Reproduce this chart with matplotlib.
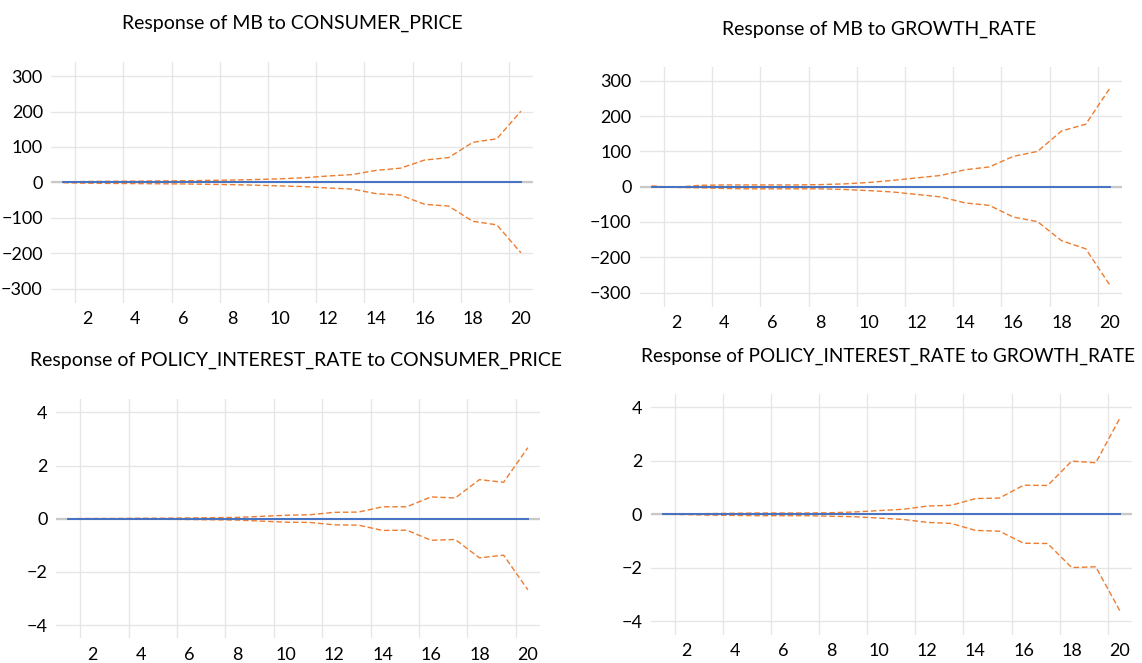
import matplotlib
matplotlib.use('Agg')
import matplotlib.pyplot as plt

plt.rcParams['font.family'] = ['Lato', 'DejaVu Sans']

# periods
steps = list(range(1, 21))
xtick_labels = ['2', '4', '6', '8', '10', '12', '14', '16', '18', '20']

# Response of MB to CONSUMER_PRICE
mb_cp = [0.0] * 20
mb_cp_up = [1, 2.5, 3, 3.5, 4, 4.5, 5.5, 6.5, 8, 10, 13, 18, 22, 34, 40, 63, 70, 113, 123, 201]
mb_cp_lo = [-1, -2.5, -3, -3.5, -4, -4.5, -5.5, -6.5, -8, -10, -12, -16, -19, -32, -36, -62, -67, -110, -120, -199]

# Response of MB to GROWTH_RATE
mb_gr = [0.0] * 20
mb_gr_up = [2, -2, 4, 5, 5, 5, 5, 6, 8, 12, 18, 25, 32, 48, 56, 86, 100, 158, 177, 279]
mb_gr_lo = [1, -2, -3, -5, -6, -6, -6, -6, -8, -11, -15, -22, -29, -46, -53, -86, -99, -153, -176, -279]

# Response of POLICY_INTEREST_RATE to CONSUMER_PRICE
pir_cp = [0.0] * 20
pir_cp_up = [0.0, 0.01, 0.01, 0.02, 0.02, 0.03, 0.04, 0.05, 0.09, 0.13, 0.15, 0.24, 0.25, 0.45, 0.45, 0.82, 0.78, 1.47, 1.37, 2.67]
pir_cp_lo = [0.0, -0.01, -0.01, -0.02, -0.02, -0.03, -0.04, -0.05, -0.09, -0.13, -0.14, -0.23, -0.24, -0.44, -0.43, -0.81, -0.78, -1.47, -1.37, -2.67]

# Response of POLICY_INTEREST_RATE to GROWTH_RATE
pir_gr = [0.0] * 20
pir_gr_up = [0.01, 0.01, 0.03, 0.04, 0.05, 0.05, 0.05, 0.06, 0.09, 0.14, 0.19, 0.31, 0.34, 0.59, 0.61, 1.09, 1.08, 1.99, 1.93, 3.59]
pir_gr_lo = [0.0, -0.01, -0.03, -0.04, -0.05, -0.05, -0.05, -0.07, -0.09, -0.14, -0.19, -0.30, -0.34, -0.60, -0.63, -1.08, -1.09, -1.99, -1.96, -3.60]

titles = ['Response of MB to CONSUMER_PRICE',
          'Response of MB to GROWTH_RATE',
          'Response of POLICY_INTEREST_RATE to CONSUMER_PRICE',
          'Response of POLICY_INTEREST_RATE to GROWTH_RATE']
mb_yticks = [-300, -200, -100, 0, 100, 200, 300]
pir_yticks = [-4, -2, 0, 2, 4]

BLUE = '#4472C4'
ORANGE = '#ED7D31'
GRID = '#E6E6E6'

fig = plt.figure(figsize=(11.42, 6.63), dpi=100)

# [left, bottom, width, height] of each plot area
boxes = [[0.0448, 0.5434, 0.4219, 0.3631],
         [0.5602, 0.5374, 0.4222, 0.3620],
         [0.0490, 0.0370, 0.4238, 0.3612],
         [0.5697, 0.0427, 0.4214, 0.3630]]
series = [(mb_cp, mb_cp_up, mb_cp_lo), (mb_gr, mb_gr_up, mb_gr_lo),
          (pir_cp, pir_cp_up, pir_cp_lo), (pir_gr, pir_gr_up, pir_gr_lo)]
ylims = [340, 340, 4.5, 4.5]
yticks = [mb_yticks, mb_yticks, pir_yticks, pir_yticks]

for i in range(4):
    ax = fig.add_axes(boxes[i])
    resp, up, lo = series[i]
    ax.axhline(0, color='#C8C8C8', lw=1.6, zorder=1)
    ax.plot(steps, up, color=ORANGE, lw=1.0, ls=(0, (4, 2)), zorder=2)
    ax.plot(steps, lo, color=ORANGE, lw=1.0, ls=(0, (4, 2)), zorder=2)
    ax.plot(steps, resp, color=BLUE, lw=1.4, zorder=3)

    ax.set_xlim(0.5, 20.5)
    ax.set_ylim(-ylims[i], ylims[i])
    ax.set_xticks(steps[1::2])
    ax.set_xticklabels(xtick_labels)
    ax.set_xticks([s + 0.5 for s in steps[:-1:2]], minor=True)
    ax.set_yticks(yticks[i])
    ax.grid(which='minor', axis='x', color=GRID, lw=1)
    ax.grid(which='major', axis='y', color=GRID, lw=1)
    ax.tick_params(which='both', length=0, labelsize=13, colors='#000000')
    ax.tick_params(axis='x', pad=6)
    ax.tick_params(axis='y', pad=6)
    for sp in ax.spines.values():
        sp.set_visible(False)
    ax.set_axisbelow(True)

fig.text(0.2557, 0.9650, titles[0], ha='center', va='center', fontsize=14)
fig.text(0.7700, 0.9560, titles[1], ha='center', va='center', fontsize=14)
fig.text(0.2596, 0.4560, titles[2], ha='center', va='center', fontsize=14)
fig.text(0.7775, 0.4620, titles[3], ha='center', va='center', fontsize=13.7)

fig.savefig('out.png', dpi=100)
